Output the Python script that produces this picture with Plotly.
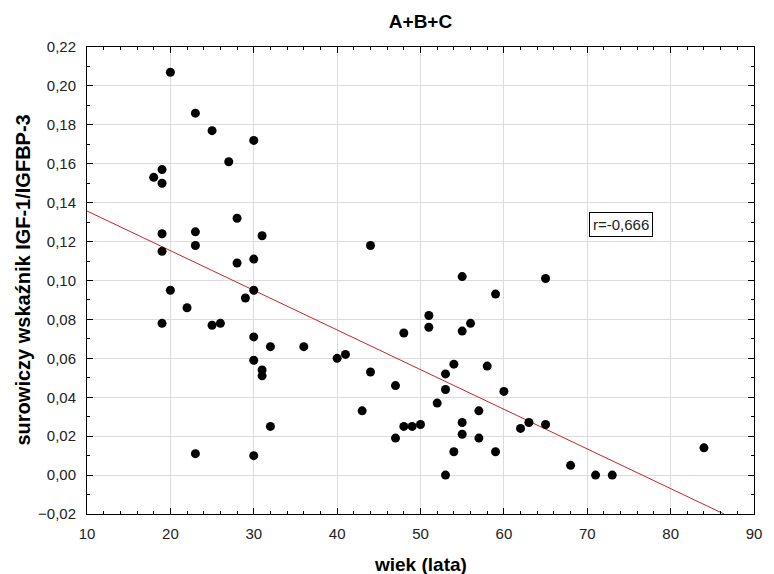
import plotly.graph_objects as go
import numpy as np

age = [20, 23, 25, 30, 27, 19, 18, 19, 28, 19, 23, 31, 19, 23, 28, 30,
       20, 22, 19, 25, 26, 30, 29, 30, 32, 36, 30, 31, 31, 32, 23, 30,
       44, 40, 41, 44, 43, 47, 48, 47, 48, 49, 50, 51, 51, 55, 59, 55,
       56, 54, 53, 53, 52, 58, 60, 57, 55, 55, 57, 54, 59, 53, 62, 63,
       65, 65, 68, 71, 73, 84]
ratio = [0.207, 0.186, 0.177, 0.172, 0.161, 0.157, 0.153, 0.150, 0.132, 0.124,
         0.125, 0.123, 0.115, 0.118, 0.109, 0.111, 0.095, 0.086, 0.078, 0.077,
         0.078, 0.095, 0.091, 0.071, 0.066, 0.066, 0.059, 0.054, 0.051, 0.025,
         0.011, 0.010, 0.118, 0.060, 0.062, 0.053, 0.033, 0.046, 0.073, 0.019,
         0.025, 0.025, 0.026, 0.082, 0.076, 0.102, 0.093, 0.074, 0.078, 0.057,
         0.052, 0.044, 0.037, 0.056, 0.043, 0.033, 0.027, 0.021, 0.019, 0.012,
         0.012, 0.000, 0.024, 0.027, 0.101, 0.026, 0.005, 0.000, 0.000, 0.014]

fit_intercept = 0.1561
fit_slope = -0.002038
r_label = "r=-0,666"
title_text = "A+B+C"
x_title = "wiek (lata)"
y_title = "surowiczy wskaźnik IGF-1/IGFBP-3"

x_range = [10, 90]
y_range = [-0.02, 0.22]

line_x = np.array([10, (y_range[0] - fit_intercept) / fit_slope])
line_y = fit_intercept + fit_slope * line_x

font_main = "Liberation Sans, Arial, sans-serif"

fig = go.Figure()
fig.add_trace(go.Scatter(x=line_x, y=line_y, mode="lines",
                         line=dict(color="#cc2222", width=1), showlegend=False))
fig.add_trace(go.Scatter(x=age, y=ratio, mode="markers",
                         marker=dict(color="black", size=9), showlegend=False))

fig.add_annotation(x=74, y=0.129, text=r_label, showarrow=False,
                   font=dict(size=15, color="#222", family=font_main),
                   bordercolor="black", borderwidth=1, borderpad=3, bgcolor="white")

# axis titles as paper annotations
fig.add_annotation(x=0.5, y=0, xref="paper", yref="paper", xanchor="center", yanchor="middle",
                   yshift=-50, text="<b>" + x_title + "</b>", showarrow=False,
                   font=dict(size=19, color="black", family=font_main))
fig.add_annotation(x=0, y=0.5, xref="paper", yref="paper", xanchor="center", yanchor="middle",
                   xshift=-65, text="<b>" + y_title + "</b>", showarrow=False, textangle=-90,
                   font=dict(size=20, color="black", family=font_main))

axis_common = dict(
    showline=True, linecolor="black", linewidth=1, mirror="allticks",
    ticks="inside", ticklen=6, tickcolor="black",
    showgrid=True, gridcolor="#dcdcdc", gridwidth=1, zeroline=False,
    tickfont=dict(size=15, color="#222", family=font_main),
)

fig.update_xaxes(range=x_range, dtick=10, tick0=10, ticklabelstandoff=6,
                 minor=dict(dtick=2, ticks="inside", ticklen=3, tickcolor="black", showgrid=False),
                 **axis_common)
fig.update_yaxes(range=y_range, dtick=0.02, tick0=0, tickformat=".2f", ticklabelstandoff=7,
                 minor=dict(dtick=0.01, ticks="inside", ticklen=3, tickcolor="black", showgrid=False),
                 **axis_common)

fig.update_layout(
    width=774, height=574,
    margin=dict(l=87, r=12, t=47, b=60),
    paper_bgcolor="white", plot_bgcolor="white",
    separators=", ",
    title=dict(text="<b>" + title_text + "</b>", x=0.5, xanchor="center", xref="paper",
               y=1 - 21 / 574, yanchor="middle",
               font=dict(size=19, family=font_main, color="black")),
)

fig.write_html("out.html")
